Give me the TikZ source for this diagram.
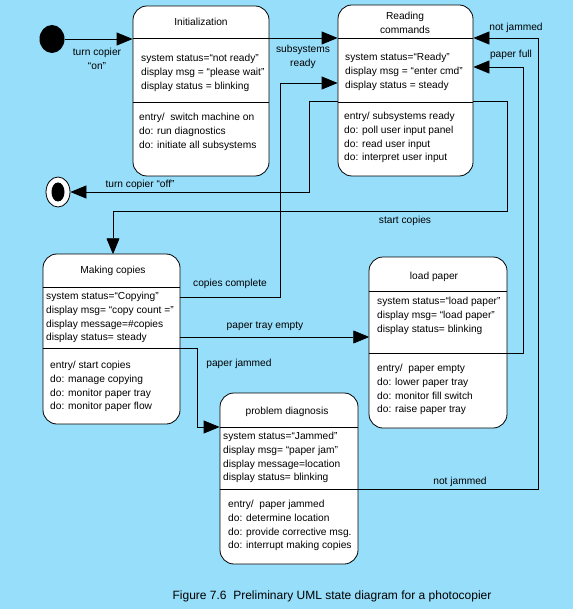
\documentclass[tikz,border=0pt]{standalone}
\usepackage{fontspec}
\setmainfont{Liberation Sans}
\usetikzlibrary{arrows.meta,shapes.geometric}
\definecolor{skyback}{RGB}{150,222,250}

\begin{document}
\begin{tikzpicture}[x=1pt,y=-1pt,
	every node/.style={font=\fontsize{10.2}{13.8}\selectfont},
	state/.style={draw,fill=white,rounded corners=14pt,line width=0.8pt},
	attr/.style={anchor=north west,align=left,inner sep=0pt},
	wire/.style={line width=0.8pt},
	trans/.style={line width=0.8pt,-{Triangle[length=16pt,width=13pt]}},
	blobtrans/.style={line width=0.8pt,-{Triangle[length=16pt,width=13pt,round]}}]
	\fill[skyback] (0,0) rectangle (573,609);
	\useasboundingbox (0,0) rectangle (573,609);

	% pseudo states
	\node[ellipse,fill=black,inner sep=0pt,minimum width=25pt,minimum height=28pt] (start) at (52,39) {};
	\node[ellipse,draw,fill=white,line width=0.8pt,inner sep=0pt,minimum width=24pt,minimum height=30pt] (stop) at (58,192) {};
	\node[ellipse,fill=black,inner sep=0pt,minimum width=13pt,minimum height=19pt] (stopdot) at (stop) {};

	% Initialization
	\node[state,minimum width=136pt,minimum height=170pt] (init) at (201,91) {};
	\node (inittitle) at (201,22) {Initialization};
	\draw[wire] (init.west |- 0,38) -- (init.east |- 0,38);
	\draw[wire] (init.west |- 0,102) -- (init.east |- 0,102);
	\node[attr] (initattr) at (141,54) {system status=“not ready”\\display msg = “please wait”\\display status = blinking};
	\node[attr] (initdo) at (139,113) {entry/\ \ switch machine on\\do: run diagnostics\\do: initiate all subsystems};

	% Reading commands
	\node[state,minimum width=135pt,minimum height=171pt] (read) at (405.5,90.5) {};
	\node[align=center] (readtitle) at (405,22.5) {Reading\\commands};
	\draw[wire] (read.west |- 0,38) -- (read.east |- 0,38);
	\draw[wire] (read.west |- 0,102) -- (read.east |- 0,102);
	\node[attr] (readattr) at (345,53) {system status=“Ready”\\display msg = “enter cmd”\\display status = steady};
	\node[attr] (readdo) at (344,112) {entry/ subsystems ready\\do: poll user input panel\\do: read user input\\do: interpret user input};

	% Making copies
	\node[state,minimum width=137pt,minimum height=170pt] (make) at (111.5,339) {};
	\node (maketitle) at (113,271) {Making copies};
	\draw[wire] (make.west |- 0,287) -- (make.east |- 0,287);
	\draw[wire] (make.west |- 0,348) -- (make.east |- 0,348);
	\node[attr] (makeattr) at (46,292) {system status=“Copying”\\display msg= “copy count =”\\display message=\#copies\\display status= steady};
	\node[attr] (makedo) at (50,361) {entry/ start copies\\do: manage copying\\do: monitor paper tray\\do: monitor paper flow};

	% load paper
	\node[state,minimum width=138pt,minimum height=171pt] (load) at (438,342.5) {};
	\node (loadtitle) at (434,277) {load paper};
	\draw[wire] (load.west |- 0,291) -- (load.east |- 0,291);
	\draw[wire] (load.west |- 0,353) -- (load.east |- 0,353);
	\node[attr] (loadattr) at (377,297) {system status=“load paper”\\display msg= “load paper”\\display status= blinking};
	\node[attr] (loaddo) at (377,364) {entry/\ \ paper empty\\do: lower paper tray\\do: monitor fill switch\\do: raise paper tray};

	% problem diagnosis
	\node[state,minimum width=138pt,minimum height=171pt] (prob) at (289,478.5) {};
	\node (probtitle) at (287,412) {problem diagnosis};
	\draw[wire] (prob.west |- 0,427) -- (prob.east |- 0,427);
	\draw[wire] (prob.west |- 0,489) -- (prob.east |- 0,489);
	\node[attr] (probattr) at (223,432) {system status=“Jammed”\\display msg= “paper jam”\\display message=location\\display status= blinking};
	\node[attr] (probdo) at (228,500) {entry/\ \ paper jammed\\do: determine location\\do: provide corrective msg.\\do: interrupt making copies};

	% transitions
	\draw[trans] (start) -- (init.west |- start);
	\node[align=center] (onlbl) at (97,58.5) {turn copier\\“on”};
	\draw[trans] (init.east |- 0,38) -- (read.west |- 0,38);
	\node[align=center] (readylbl) at (303,56.5) {subsystems\\ready};
	\draw[trans] (make.east |- 0,297) -| (280,83) -- (read.west |- 0,83);
	\node (donelbl) at (230,284) {copies complete};
	\draw[trans] (read.west |- 0,101) -| (309,192) -- (stop.east);
	\node (offlbl) at (140,185) {turn copier “off”};
	\draw[blobtrans] (read.east |- 0,101) -| (507,211) -| (make.north -| 113,0);
	\node (startlbl) at (405,221) {start copies};
	\draw[blobtrans] (make.east |- 0,337) -- (load.west |- 0,337);
	\node (emptylbl) at (265,326) {paper tray empty};
	\draw[trans] (make.east |- 0,348) -| (197,427) -- (prob.west |- 0,427);
	\node (jamlbl) at (239,364) {paper jammed};
	\draw[trans] (load.east |- 0,353) -| (523,67) -- (read.east |- 0,67);
	\node (fulllbl) at (511,55) {paper full};
	\draw[trans] (prob.east |- 0,489) -| (538,38) -- (read.east |- 0,38);
	\node (notjamtop) at (516,28) {not jammed};
	\node (notjamlow) at (460,482) {not jammed};

	\node[font=\fontsize{12}{14}\selectfont] (caption) at (332,596) {Figure 7.6\ \ Preliminary UML state diagram for a photocopier};
\end{tikzpicture}
\end{document}
